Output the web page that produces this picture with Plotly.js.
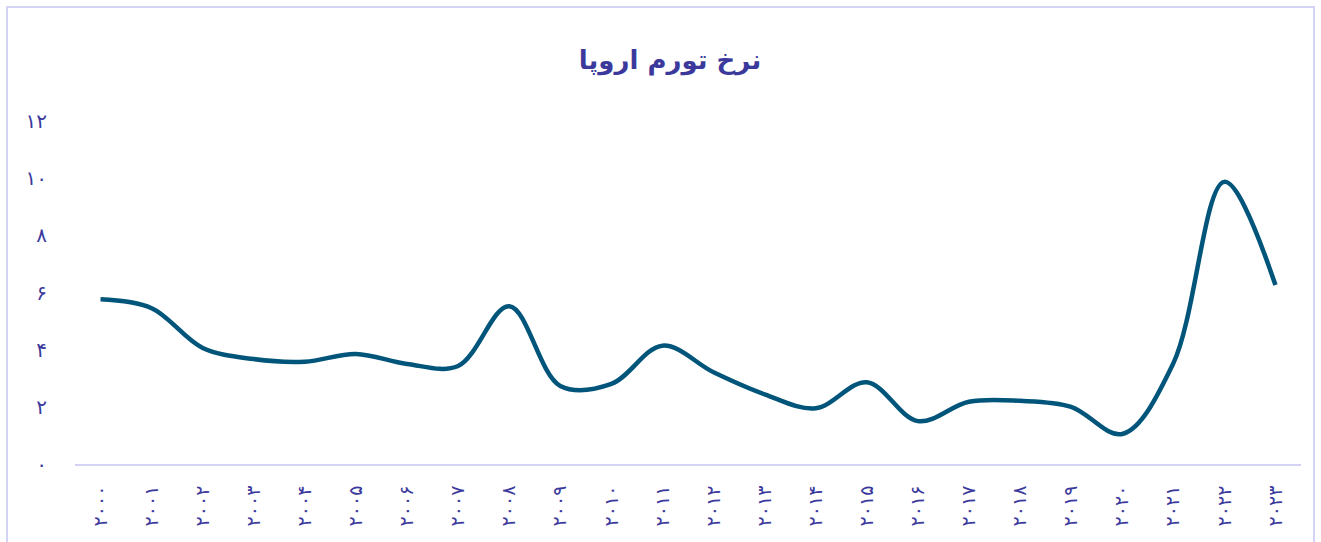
<!DOCTYPE html>
<html>
<head>
<meta charset="utf-8">
<script src="https://cdn.plot.ly/plotly-3.0.1.min.js"></script>
<style>
html,body{margin:0;padding:0;background:#fff;}
#chart{width:1321px;height:542px;}
</style>
</head>
<body>
<div id="chart"></div>
<script>
// Data
const years = ['۲۰۰۰','۲۰۰۱','۲۰۰۲','۲۰۰۳','۲۰۰۴','۲۰۰۵','۲۰۰۶','۲۰۰۷','۲۰۰۸','۲۰۰۹','۲۰۱۰','۲۰۱۱','۲۰۱۲','۲۰۱۳','۲۰۱۴','۲۰۱۵','۲۰۱۶','۲۰۱۷','۲۰۱۸','۲۰۱۹','۲۰۲۰','۲۰۲۱','۲۰۲۲','۲۰۲۳'];
const inflation = [5.76, 5.45, 4.06, 3.67, 3.58, 3.85, 3.5, 3.43, 5.52, 2.73, 2.8, 4.14, 3.21, 2.44, 1.95, 2.86, 1.5, 2.18, 2.21, 2.0, 1.05, 3.52, 9.87, 6.26];
const yTickVals = [0, 2, 4, 6, 8, 10, 12];
const yTickText = ['۰','۲','۴','۶','۸','۱۰','۱۲'];
const chartTitle = 'نرخ تورم اروپا';

const textColor = '#3b3a9c';
const fontFamily = '"DejaVu Sans", "Noto Sans", sans-serif';

const trace = {
  x: years,
  y: inflation,
  type: 'scatter',
  mode: 'lines',
  line: {color: '#02557a', width: 4.5, shape: 'spline', smoothing: 1},
  hoverinfo: 'x+y'
};

const layout = {
  width: 1321,
  height: 542,
  margin: {l: 75, r: 20, t: 121, b: 78},
  paper_bgcolor: '#ffffff',
  plot_bgcolor: '#ffffff',
  showlegend: false,
  title: {
    text: '<b>' + chartTitle + '</b>',
    font: {family: fontFamily, size: 26, color: textColor},
    x: 670/1321, xref: 'container', xanchor: 'center',
    y: 1 - 60/542, yref: 'container', yanchor: 'middle'
  },
  xaxis: {
    type: 'category',
    range: [-0.5, years.length - 0.5],
    tickangle: -90,
    showgrid: false,
    zeroline: false,
    showline: true,
    linecolor: '#d5d3f3',
    linewidth: 2,
    ticks: 'outside',
    ticklen: 12,
    tickcolor: 'rgba(0,0,0,0)',
    tickfont: {family: fontFamily, size: 19, color: textColor},
    fixedrange: true
  },
  yaxis: {
    range: [0, 12],
    tickvals: yTickVals,
    ticktext: yTickText,
    showgrid: false,
    zeroline: false,
    showline: false,
    ticks: 'outside',
    ticklen: 23,
    tickcolor: 'rgba(0,0,0,0)',
    tickfont: {family: fontFamily, size: 20, color: textColor},
    fixedrange: true
  },
  shapes: [{
    type: 'rect', xref: 'paper', yref: 'paper', layer: 'below',
    x0: (7 - 75) / 1226, x1: (1314 - 75) / 1226,
    y0: (464 - 545) / 343, y1: (464 - 7) / 343,
    line: {color: '#d5d3f3', width: 2},
    fillcolor: 'rgba(0,0,0,0)'
  }]
};

Plotly.newPlot('chart', [trace], layout, {displayModeBar: false, staticPlot: true});
</script>
</body>
</html>
